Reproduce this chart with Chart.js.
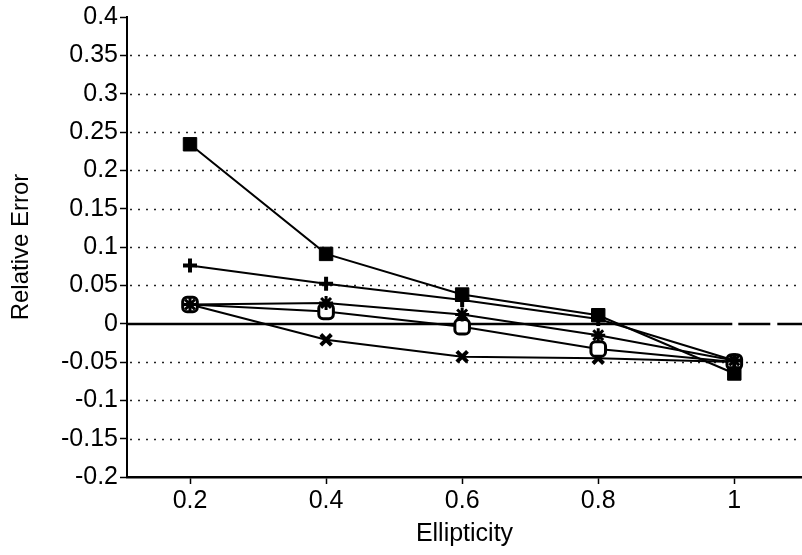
<!DOCTYPE html>
<html>
<head>
<meta charset="utf-8">
<script src="https://cdn.jsdelivr.net/npm/chart.js@4.4.1/dist/chart.umd.min.js"></script>
<style>
  html, body { margin: 0; padding: 0; background: #fff; }
  #wrap { width: 802px; height: 555px; }
</style>
</head>
<body>
<div id="wrap"><canvas id="c" width="802" height="555"></canvas></div>
<script>
// ---- data ----
const ellipticity = [0.2, 0.4, 0.6, 0.8, 1.0];
const xTicks = [0.2, 0.4, 0.6, 0.8, 1.0];
const yTicks = [0.4, 0.35, 0.3, 0.25, 0.2, 0.15, 0.1, 0.05, 0, -0.05, -0.1, -0.15, -0.2];
const seriesFilledSquare = [0.234, 0.091, 0.038, 0.011, -0.065];
const seriesPlus        = [0.076, 0.052, 0.031, 0.006, -0.048];
const seriesStar        = [0.025, 0.027, 0.012, -0.015, -0.048];
const seriesOpenSquare  = [0.025, 0.016, -0.004, -0.033, -0.050];
const seriesCross       = [0.025, -0.021, -0.043, -0.045, -0.050];

const toPts = arr => ellipticity.map((x, i) => ({ x: x, y: arr[i] }));
const FONT = "'Liberation Sans', Arial, sans-serif";

function ds(data, style, radius, bg, bw) {
  return {
    data: toPts(data),
    borderColor: '#000',
    borderWidth: 2,
    pointStyle: style,
    pointRadius: radius,
    pointBackgroundColor: bg,
    pointBorderColor: '#000',
    pointBorderWidth: bw,
    fill: false,
    tension: 0,
    clip: false
  };
}

const gridPlugin = {
  id: 'dottedGrid',
  beforeDatasetsDraw(chart) {
    const { ctx, chartArea: a, scales: { x, y } } = chart;
    ctx.save();
    ctx.strokeStyle = '#222';
    ctx.lineWidth = 1.5;
    ctx.setLineDash([2, 6]);
    yTicks.forEach(v => {
      if (v === 0 || v === 0.4 || v === -0.2) return;
      const py = Math.round(y.getPixelForValue(v)) + 0.5;
      ctx.beginPath();
      ctx.moveTo(a.left + 3, py);
      ctx.lineTo(a.right, py);
      ctx.stroke();
    });
    // zero line
    const pz = Math.round(y.getPixelForValue(0));
    ctx.lineWidth = 2.4;
    ctx.strokeStyle = '#000';
    ctx.setLineDash([]);
    const px1 = x.getPixelForValue(1.0);
    ctx.beginPath();
    ctx.moveTo(a.left, pz);
    ctx.lineTo(px1 - 2, pz);
    ctx.stroke();
    ctx.setLineDash([32, 7]);
    ctx.beginPath();
    ctx.moveTo(px1 + 4, pz);
    ctx.lineTo(a.right, pz);
    ctx.stroke();
    ctx.restore();
  }
};

new Chart(document.getElementById('c'), {
  type: 'line',
  data: {
    datasets: [
      ds(seriesFilledSquare, 'rect', 9.5, '#000', 1),
      ds(seriesPlus, 'cross', 7, '#000', 4),
      ds(seriesStar, 'star', 7, '#000', 3),
      ds(seriesOpenSquare, 'rectRounded', 8.5, '#fff', 3),
      ds(seriesCross, 'crossRot', 7.5, '#000', 4)
    ]
  },
  options: {
    responsive: false,
    animation: false,
    devicePixelRatio: 1,
    layout: { autoPadding: false, padding: { top: 14, left: 0, right: 0, bottom: 0 } },
    plugins: {
      legend: { display: false },
      tooltip: { enabled: false }
    },
    scales: {
      x: {
        type: 'linear',
        min: 0.1074,
        max: 1.0995,
        afterBuildTicks: s => { s.ticks = xTicks.map(v => ({ value: v })); },
        afterFit: s => { s.height = 78; },
        ticks: {
          color: '#000',
          font: { family: FONT, size: 25 },
          padding: 2,
          maxRotation: 0,
          callback: v => String(Math.round(v * 10) / 10)
        },
        grid: { drawOnChartArea: false, drawTicks: true, tickLength: 7, tickColor: '#000', tickWidth: 1.5 },
        border: { display: true, color: '#000', width: 2.4 },
        title: {
          display: true,
          text: 'Ellipticity',
          color: '#000',
          font: { family: FONT, size: 25 },
          padding: { top: 0, bottom: 6 }
        }
      },
      y: {
        type: 'linear',
        min: -0.2,
        max: 0.4,
        afterBuildTicks: s => { s.ticks = yTicks.map(v => ({ value: v })); },
        afterFit: s => { s.width = 127; },
        ticks: {
          color: '#000',
          font: { family: FONT, size: 25 },
          padding: 2,
          callback: v => String(Math.round(v * 100) / 100)
        },
        grid: { drawOnChartArea: false, drawTicks: true, tickLength: 7, tickColor: '#000', tickWidth: 1.5 },
        border: { display: true, color: '#000', width: 2 },
        title: {
          display: true,
          text: 'Relative Error',
          color: '#000',
          font: { family: FONT, size: 24 },
          padding: { top: 7, bottom: 4 }
        }
      }
    }
  },
  plugins: [gridPlugin]
});
</script>
</body>
</html>
